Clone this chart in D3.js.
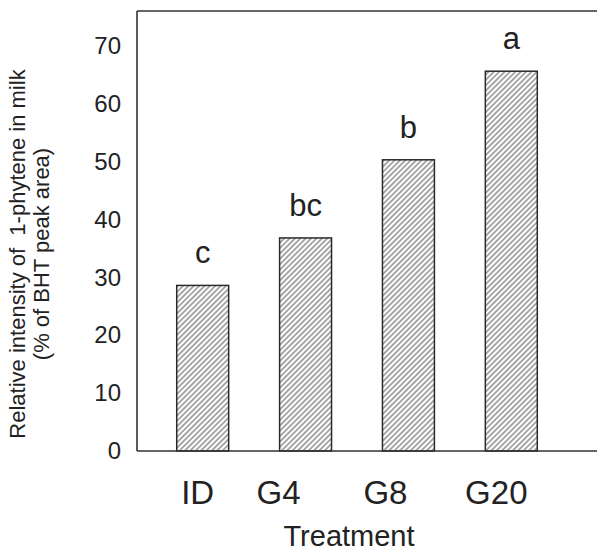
<!DOCTYPE html>
<html>
<head>
<meta charset="utf-8">
<script src="https://cdn.jsdelivr.net/npm/d3@7"></script>
<style>
  body { margin: 0; background: #fff; }
  text { font-family: "Liberation Sans", Arial, sans-serif; fill: #222; }
</style>
</head>
<body>
<svg id="canvas"></svg>
<script>
// bar chart, relative intensity of 1-phytene per treatment

let treatments = ['ID', 'G4', 'G8', 'G20'];
let intensity = [28.6, 36.8, 50.3, 65.6];
let letters = ['c', 'bc', 'b', 'a'];
let yTicks = [0, 10, 20, 30, 40, 50, 60, 70];

let width = 597;
let height = 554;

const canvas = d3.select('#canvas').attr('width', width).attr('height', height);

// the category labels are not centred on the bars in the original
let labelShift = [-5, -27, -23, -15];

let x = d3.scaleBand()
    .domain(treatments)
    .range([151, 563])
    .paddingInner(0.495)
    .paddingOuter(0.25);

let y = d3.scaleLinear()
    .domain([0, 76])
    .range([451, 11]);

// diagonal hatch
let defs = canvas.append('defs');
defs.append('pattern')
    .attr('id', 'hatch')
    .attr('patternUnits', 'userSpaceOnUse')
    .attr('width', 3.8)
    .attr('height', 3.8)
    .attr('patternTransform', 'rotate(45)')
    .append('line')
    .attr('x1', 1).attr('y1', 0)
    .attr('x2', 1).attr('y2', 3.8)
    .attr('stroke', '#8c8c8c')
    .attr('stroke-width', 1.5);

let data = treatments.map((t, i) => ({ t: t, v: intensity[i], l: letters[i] }));

canvas.selectAll('rect.bar')
    .data(data)
    .enter()
    .append('rect')
    .attr('class', 'bar')
    .attr('x', (d) => x(d.t))
    .attr('y', (d) => y(d.v))
    .attr('width', x.bandwidth())
    .attr('height', (d) => y(0) - y(d.v))
    .attr('fill', 'url(#hatch)')
    .attr('stroke', '#2a2a2a')
    .attr('stroke-width', 1.5);

// significance letters
canvas.selectAll('text.sig')
    .data(data)
    .enter()
    .append('text')
    .attr('class', 'sig')
    .attr('x', (d) => x(d.t) + x.bandwidth() / 2)
    .attr('y', (d) => y(d.v) - 22)
    .attr('text-anchor', 'middle')
    .style('font-size', '31px')
    .text((d) => d.l);

// frame: left axis, top line, bottom axis (no right border)
let frame = canvas.append('g').attr('stroke', '#333').attr('stroke-width', 1.6).attr('fill', 'none');
frame.append('line').attr('x1', 137).attr('x2', 137).attr('y1', y.range()[1]).attr('y2', y(0));
frame.append('line').attr('x1', 137).attr('x2', width).attr('y1', y.range()[1]).attr('y2', y.range()[1]);
frame.append('line').attr('x1', 137).attr('x2', width).attr('y1', y(0)).attr('y2', y(0));

// y axis labels, no tick marks
let yAxis = d3.axisLeft(y).tickValues(yTicks).tickSize(0).tickPadding(16);
let gy = canvas.append('g').attr('transform', 'translate(137,0)').call(yAxis);
gy.select('.domain').remove();
gy.selectAll('text')
    .style('font-size', '24px')
    .style('font-family', '"Liberation Sans", Arial, sans-serif')
    .attr('fill', '#222');

// category labels
canvas.selectAll('text.cat')
    .data(treatments)
    .enter()
    .append('text')
    .attr('class', 'cat')
    .attr('x', (d, i) => x(d) + x.bandwidth() / 2 + labelShift[i])
    .attr('y', 504)
    .attr('text-anchor', 'middle')
    .style('font-size', '33px')
    .text((d) => d);

canvas.append('text')
    .attr('x', 349)
    .attr('y', 546)
    .attr('text-anchor', 'middle')
    .style('font-size', '29px')
    .text('Treatment');

// y title, two lines
let title = canvas.append('g').attr('transform', 'translate(0,254) rotate(-90)');
title.append('text')
    .attr('x', 0).attr('y', 25)
    .attr('text-anchor', 'middle')
    .style('font-size', '22px')
    .style('white-space', 'pre')
    .text('Relative intensity of  1-phytene in milk');
title.append('text')
    .attr('x', 0).attr('y', 49)
    .attr('text-anchor', 'middle')
    .style('font-size', '22px')
    .text('(% of BHT peak area)');
</script>
</body>
</html>
